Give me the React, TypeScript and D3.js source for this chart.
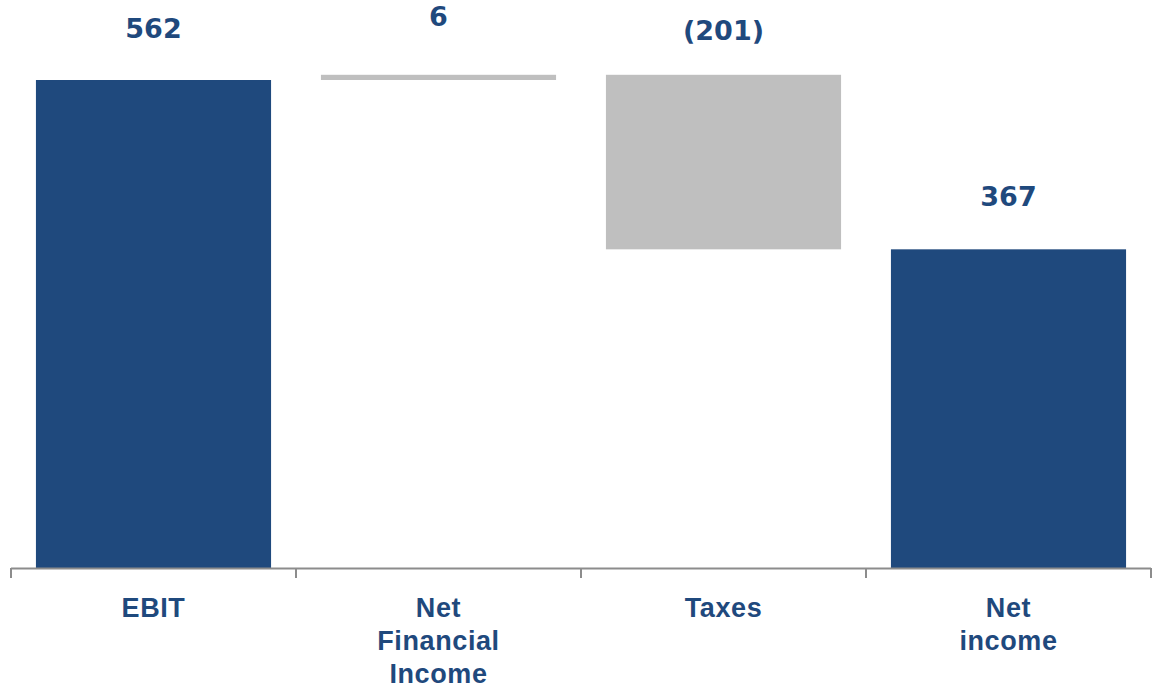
import React from "react";
import * as d3 from "d3";

const categories = ["EBIT", "Net Financial Income", "Taxes", "Net income"];
const categoryLines = [["EBIT"], ["Net", "Financial", "Income"], ["Taxes"], ["Net", "income"]];
const deltas = [562, 6, -201, 367];
const kinds = ["total", "delta", "delta", "total"];
const valueLabels = ["562", "6", "(201)", "367"];

// layout: how far each value label sits above its bar top (px)
const valueLabelLift = [42, 49, 35, 43];

const W = 1153;
const H = 693;
const BLUE = "#1F497D";
const GRAY = "#BFBFBF";
const X0 = 11;
const X1 = 1151;

export default function App() {
  const x = d3.scaleBand<string>().domain(categories).range([X0, X1]).paddingInner(0.175).paddingOuter(0.0875);
  const band = d3.scaleBand<string>().domain(categories).range([X0, X1]);
  const y = d3.scaleLinear().domain([0, 562]).range([568, 80]);

  let running = 0;
  const bars = categories.map((c, i) => {
    let y0: number, y1: number;
    if (kinds[i] === "total") {
      y0 = 0;
      y1 = deltas[i];
      running = deltas[i];
    } else {
      y0 = running;
      y1 = running + deltas[i];
      running = y1;
    }
    return { c, i, lo: Math.min(y0, y1), hi: Math.max(y0, y1), kind: kinds[i], label: valueLabels[i] };
  });

  const ticks = [...categories.map((c) => band(c)!), X1];

  return (
    <svg width={W} height={H} style={{ position: "absolute", left: 0, top: 0 }}>
      <rect width={W} height={H} fill="#fff" />
      {bars.map((b) => (
        <rect
          key={b.c}
          x={x(b.c)}
          width={x.bandwidth()}
          y={y(b.hi)}
          height={y(b.lo) - y(b.hi)}
          fill={b.kind === "total" ? BLUE : GRAY}
        />
      ))}
      <line x1={X0} x2={X1} y1={568.5} y2={568.5} stroke="#8C8C8C" strokeWidth={2} />
      {ticks.map((t, i) => (
        <line key={i} x1={t} x2={t} y1={568} y2={578} stroke="#8C8C8C" strokeWidth={2} />
      ))}
      {bars.map((b) => (
        <text
          key={b.c + "v"}
          x={x(b.c)! + x.bandwidth() / 2}
          y={y(b.hi) - valueLabelLift[b.i]}
          textAnchor="middle"
          fontFamily="DejaVu Sans, Verdana, sans-serif"
          fontWeight="bold"
          fontSize={27}
          fill={BLUE}
        >
          {b.label}
        </text>
      ))}
      {categories.map((c, i) => (
        <text
          key={c + "l"}
          x={band(c)! + band.bandwidth() / 2}
          textAnchor="middle"
          fontFamily="Liberation Sans, Arial, sans-serif"
          fontWeight="bold"
          fontSize={27}
          letterSpacing={0.6}
          fill={BLUE}
        >
          {categoryLines[i].map((ln, j) => (
            <tspan key={j} x={band(c)! + band.bandwidth() / 2} y={617 + j * 33}>
              {ln}
            </tspan>
          ))}
        </text>
      ))}
    </svg>
  );
}
